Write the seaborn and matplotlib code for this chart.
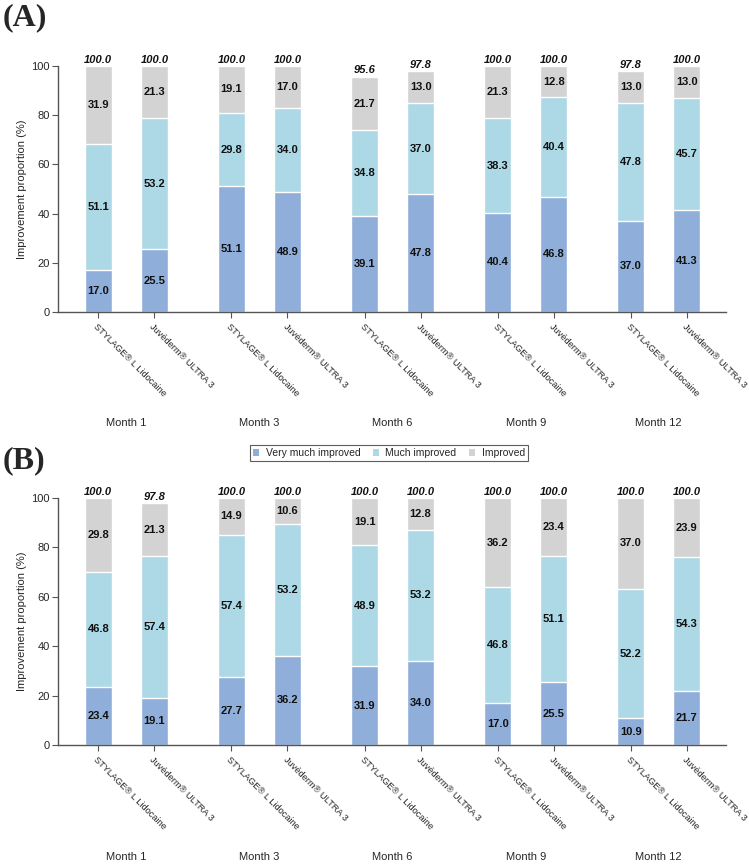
import numpy as np
import pandas as pd
import matplotlib
matplotlib.use("Agg")
import matplotlib.pyplot as plt
from matplotlib.patches import Patch
import seaborn as sns

months = ["Month 1", "Month 3", "Month 6", "Month 9", "Month 12"]
products = ["STYLAGE\u00ae L Lidocaine", "Juv\u00e9derm\u00ae ULTRA 3"]
categories = ["Very much improved", "Much improved", "Improved"]

a_very_much = [17.0, 25.5, 51.1, 48.9, 39.1, 47.8, 40.4, 46.8, 37.0, 41.3]
a_much = [51.1, 53.2, 29.8, 34.0, 34.8, 37.0, 38.3, 40.4, 47.8, 45.7]
a_improved = [31.9, 21.3, 19.1, 17.0, 21.7, 13.0, 21.3, 12.8, 13.0, 13.0]
a_total = [100.0, 100.0, 100.0, 100.0, 95.6, 97.8, 100.0, 100.0, 97.8, 100.0]

b_very_much = [23.4, 19.1, 27.7, 36.2, 31.9, 34.0, 17.0, 25.5, 10.9, 21.7]
b_much = [46.8, 57.4, 57.4, 53.2, 48.9, 53.2, 46.8, 51.1, 52.2, 54.3]
b_improved = [29.8, 21.3, 14.9, 10.6, 19.1, 12.8, 36.2, 23.4, 37.0, 23.9]
b_total = [100.0, 97.8, 100.0, 100.0, 100.0, 100.0, 100.0, 100.0, 100.0, 100.0]

colors = ["#8FAEDA", "#ADD8E6", "#D3D3D3"]

sns.set_theme(style="white")
FONT = ["Liberation Sans Narrow", "Liberation Sans", "DejaVu Sans"]
plt.rcParams["font.family"] = FONT

GROUP_STEP = 2.375
xpos = np.array([g * GROUP_STEP + i for g in range(len(months)) for i in range(len(products))])

fig = plt.figure(figsize=(7.49, 8.64), dpi=100)
W, H = 749.0, 864.0


def panel(ax_rect, vm, mu, im, tot):
    ax = fig.add_axes(ax_rect)
    vm = np.array(vm); mu = np.array(mu); im = np.array(im)
    levels = [vm + mu + im, vm + mu, vm]
    cols = [colors[2], colors[1], colors[0]]
    for lev, c in zip(levels, cols):
        df = pd.DataFrame({"x": xpos, "y": lev})
        sns.barplot(data=df, x="x", y="y", native_scale=True, color=c,
                    saturation=1, width=0.48, errorbar=None, ax=ax,
                    edgecolor="white", linewidth=1.0)
    for k in range(len(xpos)):
        x = xpos[k]
        ax.text(x, vm[k] / 2, f"{vm[k]:.1f}", ha="center", va="center",
                fontsize=8, fontweight="bold", color="#111111")
        ax.text(x, vm[k] + mu[k] / 2, f"{mu[k]:.1f}", ha="center", va="center",
                fontsize=8, fontweight="bold", color="#111111")
        ax.text(x, vm[k] + mu[k] + im[k] / 2, f"{im[k]:.1f}", ha="center", va="center",
                fontsize=8, fontweight="bold", color="#111111")
        ax.text(x, tot[k] + 0.6, f"{tot[k]:.1f}", ha="center", va="bottom",
                fontsize=8, fontweight="bold", fontstyle="italic", color="#111111",
                clip_on=False)
    ax.set_xlim(-0.72, xpos[-1] + 0.7)
    ax.set_ylim(0, 100)
    ax.set_yticks([0, 20, 40, 60, 80, 100])
    ax.set_yticklabels(["0", "20", "40", "60", "80", "100"], fontsize=8)
    ax.set_ylabel("Improvement proportion (%)", fontsize=8, labelpad=3)
    ax.set_xlabel("")
    ax.set_xticks(xpos)
    ax.set_xticklabels(products * len(months), rotation=-45, ha="left", va="top",
                       rotation_mode="anchor", fontsize=6.7)
    seps = [(g * GROUP_STEP + 1 + (g + 1) * GROUP_STEP) / 2 for g in range(len(months) - 1)]
    ax.set_xticks(seps, minor=True)
    ax.tick_params(axis="x", which="minor", direction="in", length=4, color="#555555", width=0.8)
    ax.tick_params(axis="x", which="major", direction="out", length=4, color="#555555",
                   width=0.8, bottom=True, pad=3)
    ax.tick_params(axis="y", direction="out", length=4, color="#555555", width=0.8, left=True, pad=2)
    for s in ["top", "right"]:
        ax.spines[s].set_visible(False)
    for s in ["left", "bottom"]:
        ax.spines[s].set_color("#555555")
        ax.spines[s].set_linewidth(1.0)
    ax.grid(False)
    return ax


ax_a = panel([58 / W, 1 - 312 / H, (726 - 58) / W, (312 - 66) / H],
             a_very_much, a_much, a_improved, a_total)
ax_b = panel([58 / W, 1 - 745 / H, (726 - 58) / W, (745 - 498) / H],
             b_very_much, b_much, b_improved, b_total)

for ax, ypx in [(ax_a, 423), (ax_b, 857)]:
    for g, m in enumerate(months):
        xc = g * GROUP_STEP + 0.5
        xf = fig.transFigure.inverted().transform(ax.transData.transform((xc, 0)))[0]
        fig.text(xf, 1 - ypx / H, m, ha="center", va="center", fontsize=8)

fig.text(3 / W, 1 - 18 / H, "(A)", fontsize=23, fontweight="bold",
         family=["Liberation Serif", "DejaVu Serif"], ha="left", va="center")
fig.text(3 / W, 1 - 461 / H, "(B)", fontsize=23, fontweight="bold",
         family=["Liberation Serif", "DejaVu Serif"], ha="left", va="center")

handles = [Patch(facecolor=c, edgecolor="none") for c in colors]
leg = fig.legend(handles, categories, loc="center", bbox_to_anchor=(389 / W, 1 - 453 / H),
                 ncol=3, fontsize=7.5, frameon=True, handlelength=0.6, handleheight=0.6,
                 handletextpad=0.6, columnspacing=1.2, borderpad=0.3, fancybox=False)
leg.get_frame().set_edgecolor("#333333")
leg.get_frame().set_linewidth(0.8)

fig.savefig("out.png", dpi=100)
